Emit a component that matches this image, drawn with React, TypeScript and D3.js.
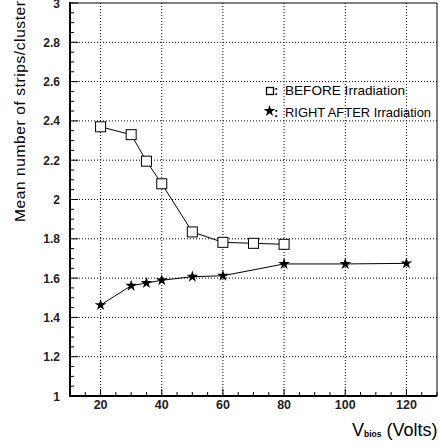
import React from "react";
import * as d3 from "d3";

const beforeX = [20, 30, 35, 40, 50, 60, 70, 80];
const beforeY = [2.37, 2.33, 2.195, 2.08, 1.835, 1.782, 1.777, 1.772];
const afterX = [20, 30, 35, 40, 50, 60, 80, 100, 120];
const afterY = [1.463, 1.561, 1.575, 1.589, 1.607, 1.612, 1.672, 1.672, 1.675];
const xTicks = [20, 40, 60, 80, 100, 120];
const yTicks = [1, 1.2, 1.4, 1.6, 1.8, 2, 2.2, 2.4, 2.6, 2.8, 3];
const legendLabels = ["BEFORE Irradiation", "RIGHT AFTER Irradiation"];

const W = 439, H = 447;
const L = 70, R = 437, T = 3, B = 396;

export default function App() {
  const x = d3.scaleLinear().domain([10, 130]).range([L, R]);
  const y = d3.scaleLinear().domain([1, 3]).range([B, T]);
  const line = d3.line<[number, number]>().x(d => x(d[0])).y(d => y(d[1]));
  const bPts: [number, number][] = beforeX.map((v, i) => [v, beforeY[i]]);
  const aPts: [number, number][] = afterX.map((v, i) => [v, afterY[i]]);
  const star = d3.symbol().type(d3.symbolStar).size(42)() as string;
  const xMinor = d3.range(10, 130.001, 5);
  const yMinor = d3.range(1, 3.0001, 0.05);
  const font = "Arial, 'Liberation Sans', sans-serif";
  return (
    <svg width={W} height={H} style={{ position: "absolute", left: 0, top: 0, background: "#fff" }} fontFamily={font}>
      {/* grid */}
      {xTicks.map(t => (
        <line key={"gx" + t} x1={x(t)} x2={x(t)} y1={T} y2={B} stroke="#000" strokeWidth={1} strokeDasharray="1,2" />
      ))}
      {yTicks.slice(1, -1).map(t => (
        <line key={"gy" + t} x1={L} x2={R} y1={y(t)} y2={y(t)} stroke="#000" strokeWidth={1} strokeDasharray="1,2" />
      ))}
      {/* frame */}
      <line x1={L} x2={R} y1={T} y2={T} stroke="#000" strokeWidth={1} />
      <line x1={R} x2={R} y1={T} y2={B} stroke="#000" strokeWidth={1} />
      <line x1={L} x2={L} y1={T - 1} y2={B + 1} stroke="#000" strokeWidth={2} />
      <line x1={L - 1} x2={R} y1={B} y2={B} stroke="#000" strokeWidth={2} />
      {/* minor ticks */}
      {xMinor.map(t => {
        const major = Math.abs((t - 20) % 20) < 1e-6;
        return <line key={"mx" + t} x1={x(t)} x2={x(t)} y1={B} y2={B - (major ? 7 : 4)} stroke="#000" strokeWidth={1} />;
      })}
      {yMinor.map(t => {
        const major = Math.abs(Math.round(t * 5) - t * 5) < 1e-6;
        return <line key={"my" + t.toFixed(2)} x1={L} x2={L + (major ? 8 : 4)} y1={y(t)} y2={y(t)} stroke="#000" strokeWidth={1} />;
      })}
      {/* tick labels */}
      {xTicks.map(t => (
        <text key={"lx" + t} x={x(t)} y={B + 13} fontSize={12.5} fontWeight="bold" textAnchor="middle" fill="#222">{t}</text>
      ))}
      {yTicks.map(t => (
        <text key={"ly" + t} x={60} y={y(t) + 4.5} fontSize={12} fontWeight="bold" textAnchor="end" fill="#222">{String(t)}</text>
      ))}
      {/* data lines */}
      <path d={line(bPts) || ""} fill="none" stroke="#000" strokeWidth={1} />
      <path d={line(aPts) || ""} fill="none" stroke="#000" strokeWidth={1} />
      {bPts.map((p, i) => (
        <rect key={"b" + i} x={x(p[0]) - 5} y={y(p[1]) - 5} width={10} height={10} fill="#fff" stroke="#000" strokeWidth={1} />
      ))}
      {aPts.map((p, i) => (
        <path key={"a" + i} d={star} transform={`translate(${x(p[0])},${y(p[1])})`} fill="#000" />
      ))}
      {/* legend */}
      <rect x={266.5} y={87.5} width={7} height={7} fill="#fff" stroke="#000" strokeWidth={1.3} />
      <text x={274} y={95} fontSize={13} fontWeight="bold" fill="#000">:</text>
      <text x={285} y={95} fontSize={13} fill="#000" textLength={120} lengthAdjust="spacingAndGlyphs">{legendLabels[0]}</text>
      <path d={star} transform="translate(269.5,111)" fill="#000" />
      <text x={274} y={116.5} fontSize={13} fontWeight="bold" fill="#000">:</text>
      <text x={285} y={116.5} fontSize={13} fill="#000" textLength={146} lengthAdjust="spacingAndGlyphs">{legendLabels[1]}</text>
      {/* axis titles */}
      <text transform="translate(25,1) rotate(-90)" textAnchor="end" fontSize={15.5} fill="#000" textLength={221} lengthAdjust="spacing">Mean number of strips/cluster</text>
      <text x={352} y={436} fontSize={18} fill="#000">V<tspan fontSize={8.5} fontWeight="bold" dy={1}>bios</tspan><tspan dy={-1}> (Volts)</tspan></text>
    </svg>
  );
}
